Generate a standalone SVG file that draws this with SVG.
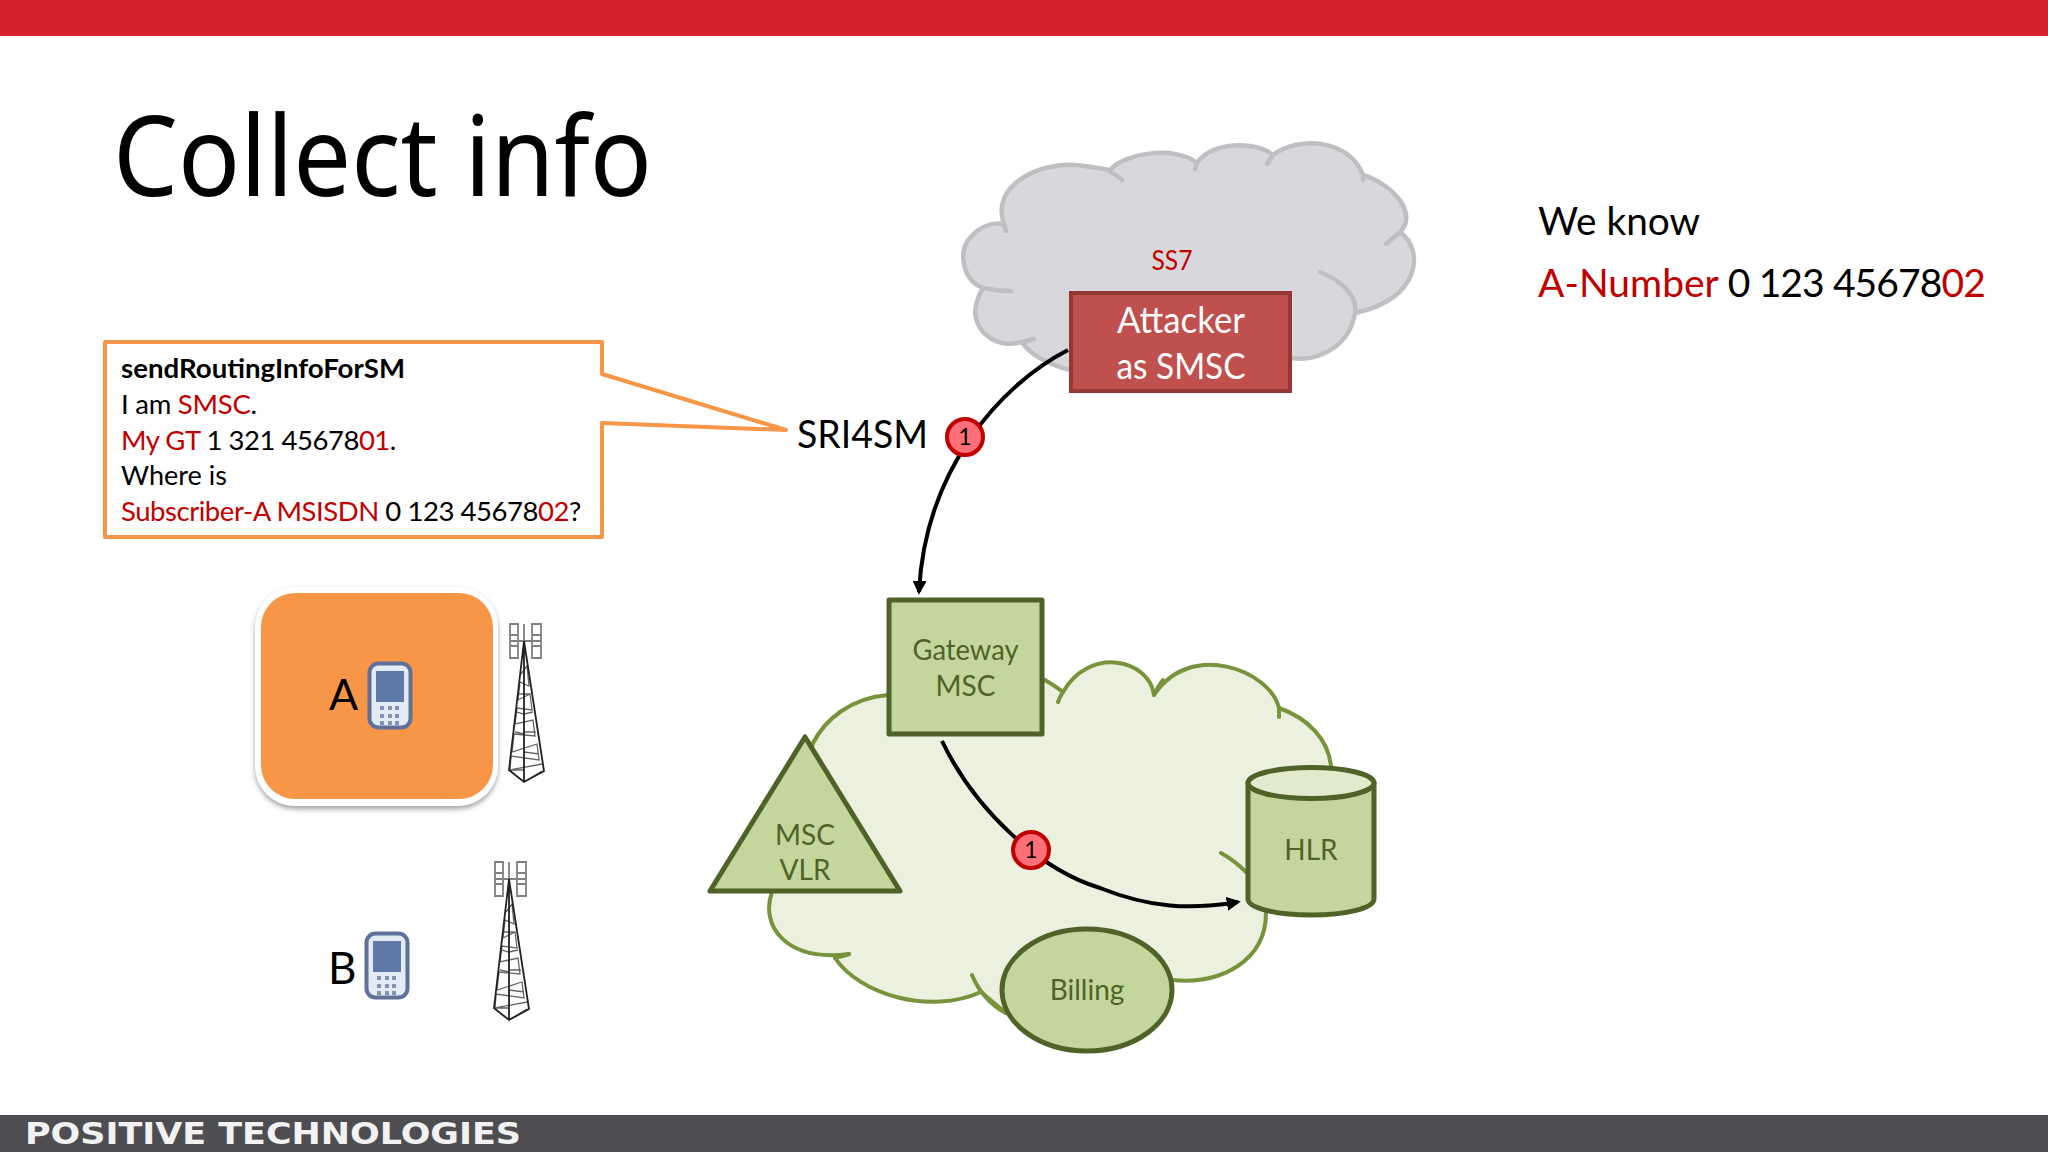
<svg xmlns="http://www.w3.org/2000/svg" xmlns:xlink="http://www.w3.org/1999/xlink" width="2048" height="1152" viewBox="0 0 2048 1152">
<style>
text{font-family:"Lato","Noto Sans","Liberation Sans",sans-serif;fill:#000}
.r{fill:#c00000}
.g{fill:#4f6228;font-size:28px;text-anchor:middle}
.w{fill:#fff;font-size:36px;text-anchor:middle}
.m{font-size:27.5px}
.gs{fill:#d8d7db;stroke:#bfbfc2;stroke-width:4.5;stroke-linecap:round;stroke-linejoin:round}
.gh{fill:none;stroke:#bfbfc2;stroke-width:4.5;stroke-linecap:round}
.ls{fill:#ebf1de;stroke:#77933c;stroke-width:4;stroke-linecap:round;stroke-linejoin:round}
.lh{fill:none;stroke:#77933c;stroke-width:4;stroke-linecap:round}
.n{fill:#c3d69b;stroke:#4f6228;stroke-width:5;stroke-linejoin:round}
.c{fill:none;stroke:#000;stroke-width:4;marker-end:url(#ah)}
.b{fill:#ff6f77;stroke:#c00000;stroke-width:4}
.bt{font-size:23px;text-anchor:middle}
.tw{fill:none;stroke:#222;stroke-width:1.8}
.tl{fill:none;stroke:#666;stroke-width:1.3}
.ta{fill:none;stroke:#808080;stroke-width:1.8}
.k{fill:#8393b8}
</style>
<defs>
<marker id="ah" viewBox="0 0 10 10" refX="8" refY="5" markerWidth="3.5" markerHeight="3.5" orient="auto"><path d="M0,0 L10,5 L0,10 Z" fill="#000"/></marker>
<filter id="sh" x="-10%" y="-10%" width="120%" height="120%"><feDropShadow dx="0" dy="3" stdDeviation="2.5" flood-color="#555" flood-opacity=".55"/></filter>
<g id="phone">
<rect x="1.5" y="1.5" width="41" height="64" rx="9" fill="#e3ecf5" stroke="#5f7199" stroke-width="4"/>
<rect x="8" y="9" width="28" height="31" fill="#5f7aa9"/>
<path class="k" d="M12,44h4v4h-4zM20,44h4v4h-4zM27,44h4v4h-4zM12,52h4v4h-4zM20,52h4v4h-4zM27,52h4v4h-4zM12,59h4v4h-4zM20,59h4v4h-4zM27,59h4v4h-4z"/>
</g>
<g id="tower">
<path class="ta" d="M-14,0h8v34h-8zM-14,11h8M-14,22h8M8,0h9v34h-9zM8,11h9M8,22h9M-14,17H17M0,0V17"/>
<path class="tl" d="M-3,50L3,42L5,62L-4,58L-6,76L6,70L8,86L-7,84L-9,100L9,96L11,112L-10,110L-12,128L13,120L15,136L-13,132L-14,146L18,140M0,146L-15,146M0,158L18,147M0,128L15,130M0,108L12,108M0,90L9,88M0,70L6,70M0,110L-9,108M0,90L-7,88M0,70L-5,70"/>
<path class="tw" d="M0,17L-15,146L0,158L20,147L0,17V158"/>
</g>
</defs>
<rect width="2048" height="1152" fill="#fff"/>
<rect id="header" width="2048" height="36" fill="#d4212c"/>
<g id="footer"><rect y="1115" width="2048" height="37" fill="#4e4e52"/>
<text x="25" y="1144" textLength="496" lengthAdjust="spacingAndGlyphs" style="font-family:'DejaVu Sans',sans-serif;font-weight:700;font-size:30px;fill:#f2f2f2">POSITIVE TECHNOLOGIES</text></g>
<text id="title" x="113" y="196" font-size="112" textLength="539" lengthAdjust="spacingAndGlyphs" style="font-family:'Noto Sans',sans-serif">Collect info</text>

<g id="ss7-cloud">
<path class="gs" d="M1004,224C990,185 1040,162 1075,165C1090,166 1102,169 1110,170C1125,153 1175,145 1197,163C1210,142 1255,140 1273,155C1300,135 1350,140 1363,175C1395,185 1418,215 1400,232C1425,250 1420,300 1355,313C1350,345 1320,362 1292,358L1070,370C1050,365 1030,355 1022,342C990,350 971,325 976,305C978,297 981,291 983,288C962,280 958,250 970,238C978,228 990,222 1004,224Z"/>
<path class="gh" d="M983,288C992,290 1002,291 1011,291M1004,224L1006,231M1110,170C1105,170 1118,175 1122,180M1197,163L1195,169M1273,155L1267,164M1363,175L1363,180M1400,232L1386,244M1320,272C1340,280 1358,295 1355,313M1022,342L1034,339"/>
<text x="1172" y="270" font-size="26" text-anchor="middle" class="r" textLength="41" lengthAdjust="spacingAndGlyphs">SS7</text>
</g>

<g id="callout">
<path d="M105,342H602V374L786,430L602,423V537H105Z" fill="#fff" stroke="#f79646" stroke-width="4" stroke-linejoin="round"/>
<text class="m" x="121" y="378" font-weight="700" textLength="284" lengthAdjust="spacingAndGlyphs">sendRoutingInfoForSM</text>
<text class="m" x="121" y="414" letter-spacing="-.25">I am <tspan class="r">SMSC</tspan>.</text>
<text class="m" x="121" y="450" letter-spacing="-.47"><tspan class="r">My GT</tspan> 1 321 45678<tspan class="r">01</tspan>.</text>
<text class="m" x="121" y="485" textLength="106" lengthAdjust="spacingAndGlyphs">Where is</text>
<text class="m" x="121" y="521" letter-spacing="-.45"><tspan class="r">Subscriber-A MSISDN</tspan> 0 123 45678<tspan class="r">02</tspan>?</text>
</g>
<text id="sri4sm" x="797" y="448" font-size="38" textLength="131" lengthAdjust="spacingAndGlyphs">SRI4SM</text>

<g id="we-know">
<text x="1538" y="235" font-size="39" textLength="162" lengthAdjust="spacingAndGlyphs">We know</text>
<text x="1538" y="297" font-size="39"><tspan class="r">A-Number</tspan><tspan letter-spacing="-.9"> 0 123 45678<tspan class="r">02</tspan></tspan></text>
</g>

<g id="home-cloud">
<path class="ls" d="M888,695C850,698 825,720 813,743L772,892C760,925 785,962 849,954L835,958C860,995 930,1015 981,992L1006,1013L1172,980C1222,985 1266,960 1266,913L1331,767C1329,740 1308,718 1279,708C1270,670 1190,640 1154,695C1150,660 1090,645 1063,692C1058,688 1050,683 1045,680Z"/>
<path class="lh" d="M1063,692C1061,695 1059,699 1058,702M1163,680C1159,685 1156,690 1154,695M1279,708L1279,717M972,975C978,990 990,1005 1006,1013M1221,853C1230,858 1240,866 1246,872M849,954L835,958"/>
</g>

<g id="ue-a">
<rect x="255" y="587" width="243" height="219" rx="40" fill="#fff" filter="url(#sh)"/>
<rect x="261" y="593" width="232" height="206" rx="34" fill="#f79646"/>
<text x="329" y="710" font-size="43">A</text>
<use xlink:href="#phone" href="#phone" x="368" y="662"/>
</g>
<g id="ue-b">
<text x="328" y="984" font-size="44">B</text>
<use xlink:href="#phone" href="#phone" x="365" y="932"/>
</g>
<g id="tower-a"><use xlink:href="#tower" href="#tower" x="524" y="624"/></g>
<g id="tower-b"><use xlink:href="#tower" href="#tower" x="509" y="862"/></g>

<g id="attacker">
<rect x="1071" y="293" width="219" height="98" fill="#c0504d" stroke="#953735" stroke-width="4"/>
<text class="w" x="1181" y="333" textLength="128" lengthAdjust="spacingAndGlyphs">Attacker</text>
<text class="w" x="1181" y="379" textLength="129" lengthAdjust="spacingAndGlyphs">as SMSC</text>
</g>

<g id="gateway-msc">
<rect class="n" x="889" y="600" width="153" height="134"/>
<text class="g" x="965.5" y="660" textLength="106" lengthAdjust="spacingAndGlyphs">Gateway</text>
<text class="g" x="965.5" y="696">MSC</text>
</g>
<g id="msc-vlr">
<path class="n" d="M805,737L900,891H710Z"/>
<text class="g" x="805" y="845">MSC</text>
<text class="g" x="805" y="880">VLR</text>
</g>
<g id="hlr">
<path class="n" d="M1248,783V899C1248,908 1276,915 1311,915C1347,915 1374,908 1374,899V783Z"/>
<ellipse cx="1311" cy="783" rx="63" ry="15.5" fill="#e1eacd" stroke="#4f6228" stroke-width="5"/>
<text class="g" x="1311" y="860">HLR</text>
</g>
<g id="billing">
<ellipse class="n" cx="1087" cy="990" rx="85" ry="61"/>
<text class="g" x="1087" y="1000">Billing</text>
</g>

<g id="connectors">
<path class="c" d="M1068,350C1000,385 925,470 919,592"/>
<path class="c" d="M942,741C975,810 1040,870 1100,888C1150,908 1190,910 1238,902"/>
</g>
<g id="badge-1"><circle class="b" cx="965" cy="437" r="18"/><text class="bt" x="965" y="445">1</text></g>
<g id="badge-2"><circle class="b" cx="1031" cy="850" r="18"/><text class="bt" x="1031" y="858">1</text></g>
</svg>
